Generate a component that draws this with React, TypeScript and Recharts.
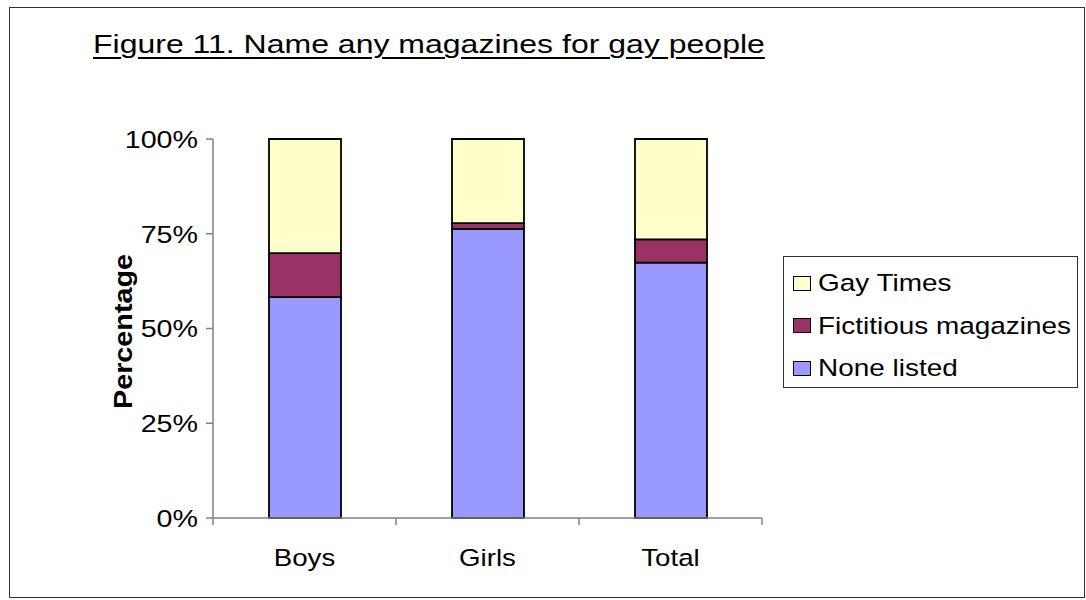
import React from 'react';
import { BarChart, Bar, XAxis, YAxis, Legend } from 'recharts';

const categories = ['Boys', 'Girls', 'Total'];
const noneListed = [58.3, 76.3, 67.4];
const fictitious = [11.6, 1.5, 6.1];
const gayTimes = [30.1, 22.2, 26.5];
const yTicks = [0, 25, 50, 75, 100];

const seriesNames = ['Gay Times', 'Fictitious magazines', 'None listed'];
const seriesColors = ['#FFFFCC', '#993366', '#9999FF'];

const data = categories.map((name, i) => ({
  name,
  none: noneListed[i],
  fict: fictitious[i],
  gay: gayTimes[i],
}));

const FONT = '"Liberation Sans", Arial, sans-serif';
const SX = 1.17;

const YTick = (props: any) => {
  const { x, y, payload } = props;
  return (
    <g transform={`translate(${x},${y})`}>
      <text
        transform={`scale(${SX},1)`}
        textAnchor="end"
        dy="0.36em"
        fontSize={24.5}
        fontFamily={FONT}
        fill="#000"
      >
        {`${payload.value}%`}
      </text>
    </g>
  );
};

const XTick = (props: any) => {
  const { x, y, payload, index, width, visibleTicksCount } = props;
  const axisY = y - 7 - 10;
  const half =
    width && visibleTicksCount ? width / visibleTicksCount / 2 : payload.offset || 0;
  return (
    <g>
      <line x1={x - half} y1={axisY} x2={x - half} y2={axisY + 7} stroke="#808080" strokeWidth={1.5} />
      {index === visibleTicksCount - 1 && (
        <line x1={x + half} y1={axisY} x2={x + half} y2={axisY + 7} stroke="#808080" strokeWidth={1.5} />
      )}
      <g transform={`translate(${x},${axisY + 48})`}>
        <text transform={`scale(1.13,1)`} textAnchor="middle" fontSize={24.5} fontFamily={FONT} fill="#000">
          {payload.value}
        </text>
      </g>
    </g>
  );
};

const PercentLabel = (props: any) => {
  const vb = props.viewBox || {};
  const cx = (vb.x || 0) + 10;
  const cy = (vb.y || 0) + (vb.height || 0) / 2 + 3;
  return (
    <g transform={`translate(${cx},${cy}) rotate(-90)`}>
      <text
        transform={`scale(1.15,1)`}
        textAnchor="middle"
        dy="0.36em"
        fontSize={25}
        fontWeight="bold"
        fontFamily={FONT}
        fill="#000"
      >
        Percentage
      </text>
    </g>
  );
};

const LegendContent = () => (
  <div
    style={{
      width: 295,
      height: 132,
      border: '1px solid #333',
      boxSizing: 'border-box',
      background: '#fff',
      paddingTop: 5,
      fontFamily: FONT,
    }}
  >
    {seriesNames.map((n, i) => (
      <div key={n} style={{ height: 42.5, display: 'flex', alignItems: 'center', paddingLeft: 9 }}>
        <div
          style={{
            width: 18,
            height: 15,
            background: seriesColors[i],
            border: '1.5px solid #000',
            boxSizing: 'border-box',
            flex: 'none',
          }}
        />
        <span
          style={{
            marginLeft: 7,
            fontSize: 24.5,
            color: '#000',
            display: 'inline-block',
            transform: 'scaleX(1.14)',
            transformOrigin: 'left center',
            whiteSpace: 'nowrap',
          }}
        >
          {n}
        </span>
      </div>
    ))}
  </div>
);

export default function App() {
  return (
    <div style={{ position: 'absolute', left: 0, top: 0, width: 1086, height: 600, background: '#fff' }}>
      <div
        style={{
          position: 'absolute',
          left: 9,
          top: 7,
          width: 1076,
          height: 591,
          border: '1px solid #333',
          boxSizing: 'border-box',
        }}
      />
      <div
        style={{
          position: 'absolute',
          left: 93,
          top: 32,
          fontFamily: FONT,
          fontSize: 25.5,
          lineHeight: '25px',
          color: '#000',
          whiteSpace: 'nowrap',
          textDecoration: 'underline',
          textDecorationThickness: '2px',
          textUnderlineOffset: '4px',
          transform: 'scaleX(1.255)',
          transformOrigin: 'left center',
        }}
      >
        Figure 11. Name any magazines for gay people
      </div>
      <div style={{ position: 'absolute', left: 0, top: 0 }}>
        <BarChart
          width={1086}
          height={600}
          data={data}
          margin={{ top: 139, right: 324, bottom: 42, left: 113 }}
          barSize={72}
        >
          <XAxis
            dataKey="name"
            height={40}
            tickLine={false}
            tickSize={7}
            tickMargin={10}
            axisLine={{ stroke: '#808080', strokeWidth: 1.5 }}
            tick={<XTick />}
            interval={0}
          />
          <YAxis
            width={100}
            domain={[0, 100]}
            ticks={yTicks}
            tickSize={7}
            tickMargin={8}
            axisLine={{ stroke: '#808080', strokeWidth: 1.5 }}
            tickLine={{ stroke: '#808080', strokeWidth: 1.5 }}
            tick={<YTick />}
            label={<PercentLabel />}
            interval={0}
          />
          <Legend
            layout="vertical"
            align="center"
            verticalAlign="middle"
            wrapperStyle={{ position: 'absolute', left: 783, top: 256, width: 295 }}
            content={<LegendContent />}
          />
          <Bar dataKey="none" name="None listed" stackId="s" fill="#9999FF" stroke="#000" strokeWidth={1.8} isAnimationActive={false} />
          <Bar dataKey="fict" name="Fictitious magazines" stackId="s" fill="#993366" stroke="#000" strokeWidth={1.8} isAnimationActive={false} />
          <Bar dataKey="gay" name="Gay Times" stackId="s" fill="#FFFFCC" stroke="#000" strokeWidth={1.8} isAnimationActive={false} />
        </BarChart>
      </div>
    </div>
  );
}
